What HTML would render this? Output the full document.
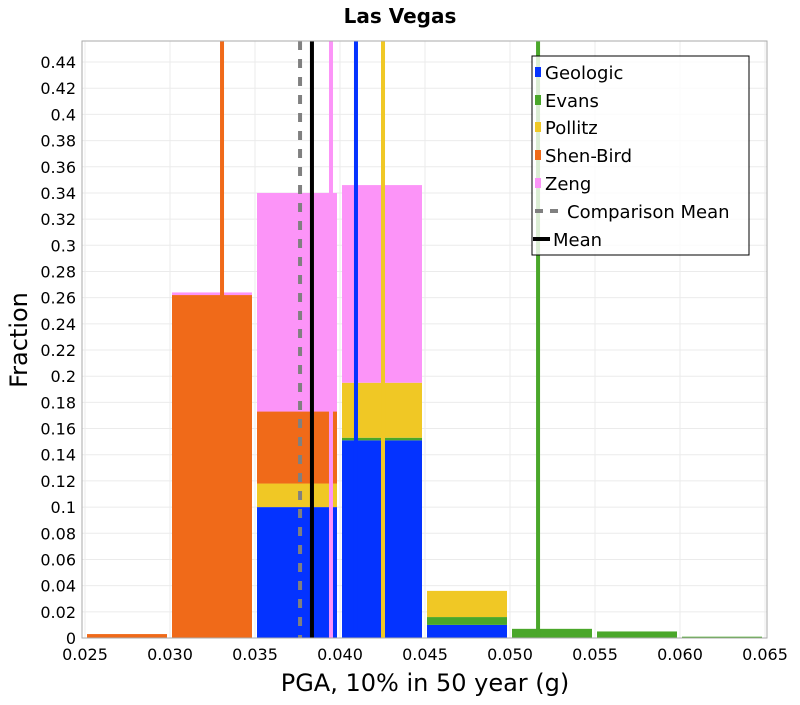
<!DOCTYPE html>
<html><head><meta charset="utf-8"><style>
html,body{margin:0;padding:0;background:#fff;}
svg text{font-family:"DejaVu Sans","Liberation Sans",sans-serif;}
</style></head><body>
<svg id="chart" width="800" height="700" xmlns="http://www.w3.org/2000/svg">
<text x="400" y="23" text-anchor="middle" font-size="20" font-weight="bold">Las Vegas</text>
<g id="grid"></g><g id="bars"></g><g id="lines"></g>
<rect x="82" y="41" width="685" height="597" fill="none" stroke="#aaa" stroke-width="1"/>
<g id="ticks"></g>
<text x="425" y="691" text-anchor="middle" font-size="24">PGA, 10% in 50 year (g)</text>
<text transform="translate(27,340) rotate(-90)" text-anchor="middle" font-size="24">Fraction</text>
<g id="legend"></g>
</svg>
<script>
const binStarts=[0.025,0.030,0.035,0.040,0.045,0.050,0.055,0.060];
const seriesNames=["Geologic","Evans","Pollitz","Shen-Bird","Zeng"];
const seriesColors=["#0433ff","#4aa72a","#f0c825","#f06a19","#fc94f8"];
const geologic=[0,0,0.100,0.151,0.010,0,0,0];
const evans=[0,0,0,0.002,0.006,0.007,0.005,0.001];
const pollitz=[0,0,0.018,0.042,0.020,0,0,0];
const shenBird=[0.003,0.262,0.055,0,0,0,0,0];
const zeng=[0,0.002,0.167,0.151,0,0,0,0];
const meanValues=[0.04094,0.05165,0.04253,0.03306,0.03947];
const meanAll=0.03835;
const compMean=0.03765;
const xTicks=[0.025,0.030,0.035,0.040,0.045,0.050,0.055,0.060,0.065];
const yTicks=[0,0.02,0.04,0.06,0.08,0.1,0.12,0.14,0.16,0.18,0.2,0.22,0.24,0.26,0.28,0.3,0.32,0.34,0.36,0.38,0.4,0.42,0.44];
const binW=0.005;
const NS="http://www.w3.org/2000/svg";
const X0=85,X1=765,XMIN=0.025,XMAX=0.065,Y0=638,YSTEP=26.18/0.02;
const xs=v=>X0+(v-XMIN)/(XMAX-XMIN)*(X1-X0);
const ys=v=>Y0-v*YSTEP;
function mk(tag,attrs,parent,txt){const e=document.createElementNS(NS,tag);for(const k in attrs)e.setAttribute(k,attrs[k]);if(txt!==undefined)e.textContent=txt;document.getElementById(parent).appendChild(e);return e;}
xTicks.forEach(t=>{
 const g=mk('line',{x1:xs(t),x2:xs(t),y1:41,y2:638,stroke:'#ebebeb'},'grid');
 
 
 const l=mk('text',{x:xs(t),y:660,'text-anchor':'middle','font-size':16},'ticks',t.toFixed(3));
 
 
});
yTicks.forEach(t=>{
 const g=mk('line',{x1:82,x2:767,y1:ys(t),y2:ys(t),stroke:'#ebebeb'},'grid');
 
 
 const l=mk('text',{x:76,y:ys(t)+6,'text-anchor':'end','font-size':16},'ticks',String(+t.toFixed(2)));
 
 
});
const series=[geologic,evans,pollitz,shenBird,zeng];
binStarts.forEach((b,i)=>{
 let base=0;
 series.forEach((s,j)=>{
  const v=s[i]; if(v<=0)return;
  const r=mk('rect',{x:xs(b)+2,y:ys(base+v),width:xs(b+binW)-xs(b)-5,height:ys(base)-ys(base+v),fill:seriesColors[j]},'bars');
  
  
  base+=v;
 });
});
meanValues.forEach((m,j)=>{
 const l=mk('line',{x1:xs(m),x2:xs(m),y1:41,y2:638,stroke:seriesColors[j],'stroke-width':4},'lines');
 
 
});
const cm=mk('line',{x1:xs(compMean),x2:xs(compMean),y1:41,y2:638,stroke:'#808080','stroke-width':4,'stroke-dasharray':'9,9'},'lines');


const ma=mk('line',{x1:xs(meanAll),x2:xs(meanAll),y1:41,y2:638,stroke:'#000','stroke-width':4},'lines');


// legend
const lb=mk('rect',{x:532,y:56,width:217,height:199,fill:'rgba(255,255,255,0.8)',stroke:'#000','stroke-width':1},'legend');


const legY=[72,100,127,155,183];
seriesNames.forEach((n,j)=>{
 const sw=mk('rect',{x:535,y:legY[j]-5,width:6,height:10,fill:seriesColors[j]},'legend');
 
 
 const t=mk('text',{x:545,y:legY[j]+7,'font-size':18},'legend',n);
 
 
});
const cl=mk('line',{x1:535,x2:562,y1:211,y2:211,stroke:'#808080','stroke-width':4,'stroke-dasharray':'8,7'},'legend');


const ct=mk('text',{x:567,y:218,'font-size':18},'legend','Comparison Mean');


const ml=mk('line',{x1:533,x2:550,y1:239,y2:239,stroke:'#000','stroke-width':4},'legend');


const mt=mk('text',{x:553,y:246,'font-size':18},'legend','Mean');


</script>
</body></html>
